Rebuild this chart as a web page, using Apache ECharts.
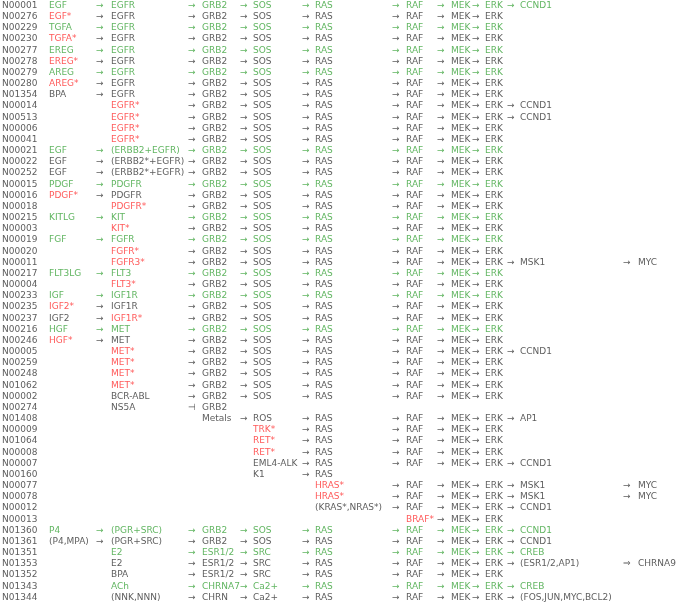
<!DOCTYPE html>
<html><head><meta charset="utf-8">
<script src="https://cdn.jsdelivr.net/npm/echarts@6/dist/echarts.min.js"></script>
<style>html,body{margin:0;padding:0;background:#fff}#c{width:682px;height:605px}</style>
</head><body><div id="c"></div>
<script>
const ids=["N00001","N00276","N00229","N00230","N00277","N00278","N00279","N00280","N01354","N00014","N00513","N00006","N00041","N00021","N00022","N00252","N00015","N00016","N00018","N00215","N00003","N00019","N00020","N00011","N00217","N00004","N00233","N00235","N00237","N00216","N00246","N00005","N00259","N00248","N01062","N00002","N00274","N01408","N00009","N01064","N00008","N00007","N00160","N00077","N00078","N00012","N00013","N01360","N01361","N01351","N01353","N01352","N01343","N01344"];
const greenRows=["N00001","N00229","N00277","N00279","N00021","N00015","N00215","N00019","N00217","N00233","N00216","N01360","N01351","N01343"];
// "|" separated cells: ligand|receptor|grb2|sos|ras|raf|mek|erk|target|end
const pathways=[
"EGF|EGFR|GRB2|SOS|RAS|RAF|MEK|ERK|CCND1|",
"EGF*|EGFR|GRB2|SOS|RAS|RAF|MEK|ERK||",
"TGFA|EGFR|GRB2|SOS|RAS|RAF|MEK|ERK||",
"TGFA*|EGFR|GRB2|SOS|RAS|RAF|MEK|ERK||",
"EREG|EGFR|GRB2|SOS|RAS|RAF|MEK|ERK||",
"EREG*|EGFR|GRB2|SOS|RAS|RAF|MEK|ERK||",
"AREG|EGFR|GRB2|SOS|RAS|RAF|MEK|ERK||",
"AREG*|EGFR|GRB2|SOS|RAS|RAF|MEK|ERK||",
"BPA|EGFR|GRB2|SOS|RAS|RAF|MEK|ERK||",
"|EGFR*|GRB2|SOS|RAS|RAF|MEK|ERK|CCND1|",
"|EGFR*|GRB2|SOS|RAS|RAF|MEK|ERK|CCND1|",
"|EGFR*|GRB2|SOS|RAS|RAF|MEK|ERK||",
"|EGFR*|GRB2|SOS|RAS|RAF|MEK|ERK||",
"EGF|(ERBB2+EGFR)|GRB2|SOS|RAS|RAF|MEK|ERK||",
"EGF|(ERBB2*+EGFR)|GRB2|SOS|RAS|RAF|MEK|ERK||",
"EGF|(ERBB2*+EGFR)|GRB2|SOS|RAS|RAF|MEK|ERK||",
"PDGF|PDGFR|GRB2|SOS|RAS|RAF|MEK|ERK||",
"PDGF*|PDGFR|GRB2|SOS|RAS|RAF|MEK|ERK||",
"|PDGFR*|GRB2|SOS|RAS|RAF|MEK|ERK||",
"KITLG|KIT|GRB2|SOS|RAS|RAF|MEK|ERK||",
"|KIT*|GRB2|SOS|RAS|RAF|MEK|ERK||",
"FGF|FGFR|GRB2|SOS|RAS|RAF|MEK|ERK||",
"|FGFR*|GRB2|SOS|RAS|RAF|MEK|ERK||",
"|FGFR3*|GRB2|SOS|RAS|RAF|MEK|ERK|MSK1|MYC",
"FLT3LG|FLT3|GRB2|SOS|RAS|RAF|MEK|ERK||",
"|FLT3*|GRB2|SOS|RAS|RAF|MEK|ERK||",
"IGF|IGF1R|GRB2|SOS|RAS|RAF|MEK|ERK||",
"IGF2*|IGF1R|GRB2|SOS|RAS|RAF|MEK|ERK||",
"IGF2|IGF1R*|GRB2|SOS|RAS|RAF|MEK|ERK||",
"HGF|MET|GRB2|SOS|RAS|RAF|MEK|ERK||",
"HGF*|MET|GRB2|SOS|RAS|RAF|MEK|ERK||",
"|MET*|GRB2|SOS|RAS|RAF|MEK|ERK|CCND1|",
"|MET*|GRB2|SOS|RAS|RAF|MEK|ERK||",
"|MET*|GRB2|SOS|RAS|RAF|MEK|ERK||",
"|MET*|GRB2|SOS|RAS|RAF|MEK|ERK||",
"|BCR-ABL|GRB2|SOS|RAS|RAF|MEK|ERK||",
"|NS5A|GRB2|||||||",
"||Metals|ROS|RAS|RAF|MEK|ERK|AP1|",
"|||TRK*|RAS|RAF|MEK|ERK||",
"|||RET*|RAS|RAF|MEK|ERK||",
"|||RET*|RAS|RAF|MEK|ERK||",
"|||EML4-ALK|RAS|RAF|MEK|ERK|CCND1|",
"|||K1|RAS|||||",
"||||HRAS*|RAF|MEK|ERK|MSK1|MYC",
"||||HRAS*|RAF|MEK|ERK|MSK1|MYC",
"||||(KRAS*,NRAS*)|RAF|MEK|ERK|CCND1|",
"|||||BRAF*|MEK|ERK||",
"P4|(PGR+SRC)|GRB2|SOS|RAS|RAF|MEK|ERK|CCND1|",
"(P4,MPA)|(PGR+SRC)|GRB2|SOS|RAS|RAF|MEK|ERK|CCND1|",
"|E2|ESR1/2|SRC|RAS|RAF|MEK|ERK|CREB|",
"|E2|ESR1/2|SRC|RAS|RAF|MEK|ERK|(ESR1/2,AP1)|CHRNA9",
"|BPA|ESR1/2|SRC|RAS|RAF|MEK|ERK||",
"|ACh|CHRNA7|Ca2+|RAS|RAF|MEK|ERK|CREB|",
"|(NNK,NNN)|CHRN|Ca2+|RAS|RAF|MEK|ERK|(FOS,JUN,MYC,BCL2)|"];
const specialArrows={"N00274:2":"⊣","N01353:9":"⇒"};

// layout: text x for id and each column, arrow x before each column
const idX=2;
const colX=[49,111,202,253,315,406,451,485,520,638];
const arrowX=[null,96,188,240,302,392,437,472,507,623];
const GREEN="#3aa23a",RED="#ff3030",BLACK="#333333";

const data=[];
ids.forEach((id,i)=>{
  const green=greenRows.includes(id);
  data.push({value:[idX,id],label:{color:BLACK}});
  const cells=pathways[i].split("|");
  let seen=false;
  cells.forEach((t,c)=>{
    if(!t)return;
    if(seen&&arrowX[c]!=null){
      const sym=specialArrows[id+":"+c]||"→";
      data.push({value:[arrowX[c],id],name:sym,label:{color:green?GREEN:BLACK}});
    }
    const red=!green&&/\*$/.test(t)&&t[0]!=="(";
    data.push({value:[colX[c],id],name:t,label:{color:green?GREEN:(red?RED:BLACK)}});
    seen=true;
  });
});
data.forEach(d=>{if(!d.name)d.name=d.value[1];});

const chart=echarts.init(document.getElementById('c'),null,{renderer:'canvas'});
chart.setOption({
  animation:false,
  grid:{left:0,right:0,top:0,height:603},
  xAxis:{type:'value',min:0,max:682,show:false},
  yAxis:{type:'category',data:ids,inverse:true,show:false},
  series:[{type:'scatter',symbolSize:0,data:data,
    label:{show:true,position:'right',distance:0,formatter:p=>p.name,
      fontFamily:'DejaVu Sans',fontSize:9}}]
});
</script></body></html>
